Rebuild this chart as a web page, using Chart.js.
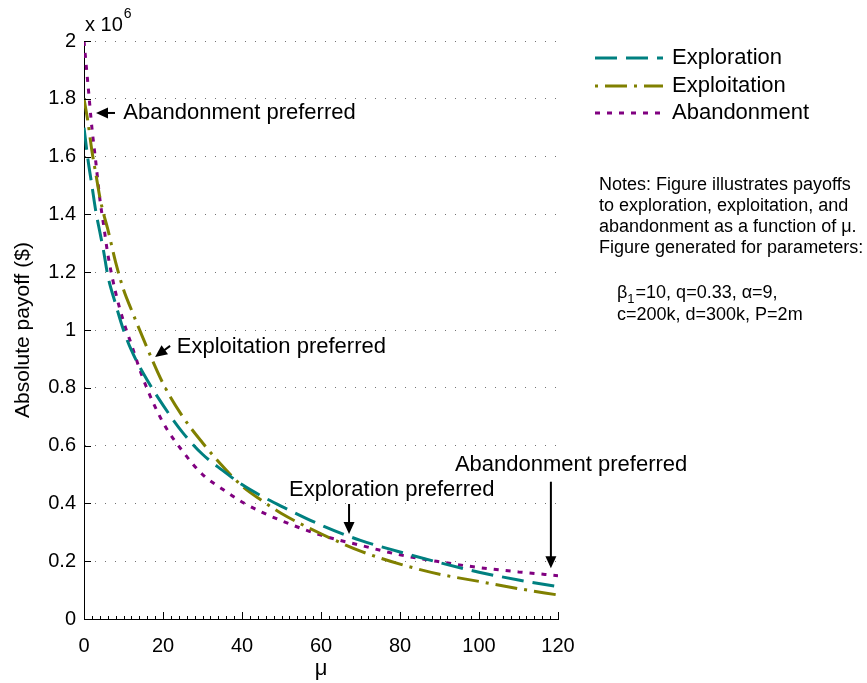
<!DOCTYPE html>
<html>
<head>
<meta charset="utf-8">
<title>Payoffs vs mu</title>
<script src="https://cdn.jsdelivr.net/npm/chart.js@4/dist/chart.umd.min.js"></script>
<style>
  html, body { margin: 0; padding: 0; background: #fff; }
  canvas { display: block; }
</style>
</head>
<body>
<canvas id="grafico" width="867" height="683"></canvas>
<script>
// valores (payoff em milhões de $)
const mu = [0, 1, 2, 3, 4, 5, 6, 8, 10, 12, 15, 20, 25, 30, 35, 40, 45, 50, 60, 70, 80, 90, 100, 110, 120];
const exploration = [1.70, 1.59, 1.50, 1.41, 1.34, 1.27, 1.19, 1.09, 1.00, 0.93, 0.85, 0.74, 0.645, 0.57, 0.515, 0.465, 0.425, 0.39, 0.325, 0.272, 0.232, 0.195, 0.162, 0.135, 0.112];
const exploitation = [1.80, 1.72, 1.62, 1.54, 1.46, 1.40, 1.35, 1.235, 1.14, 1.07, 0.97, 0.815, 0.70, 0.61, 0.53, 0.46, 0.41, 0.365, 0.295, 0.235, 0.19, 0.155, 0.13, 0.105, 0.083];
const abandonment = [2.00, 1.85, 1.70, 1.58, 1.455, 1.36, 1.265, 1.13, 1.03, 0.95, 0.83, 0.68, 0.58, 0.50, 0.45, 0.405, 0.37, 0.34, 0.29, 0.255, 0.222, 0.198, 0.178, 0.163, 0.150];

const seriesNames = ['Exploration', 'Exploitation', 'Abandonment'];
const xTicks = [0, 20, 40, 60, 80, 100, 120];
const yTicks = [0, 0.2, 0.4, 0.6, 0.8, 1, 1.2, 1.4, 1.6, 1.8, 2];

// notas e anotações (texto)
const notes = [
  'Notes: Figure illustrates payoffs',
  'to exploration, exploitation, and',
  'abandonment as a function of \u03bc.',
  'Figure generated for parameters:'
];
const annotations = [
  { text: 'Abandonment preferred', tx: 9.95, ty: 1.751, from: [7.85, 1.751], to: [3.04, 1.751] },
  { text: 'Exploitation preferred', tx: 23.5, ty: 0.941, from: [21.8, 0.945], to: [18.0, 0.907] },
  { text: 'Exploration preferred', tx: 51.9, ty: 0.446, from: [67.1, 0.398], to: [67.1, 0.294] },
  { text: 'Abandonment preferred', tx: 93.9, ty: 0.533, from: [118.2, 0.475], to: [118.2, 0.176] }
];

const FONTE = '"Liberation Sans", Arial, Helvetica, sans-serif';

function pares(ys) {
  return mu.map((x, i) => ({ x: x, y: ys[i] }));
}

function seta(ctx, x1, y1, x2, y2) {
  const ang = Math.atan2(y2 - y1, x2 - x1);
  const cab = 12;
  ctx.beginPath();
  ctx.moveTo(x1, y1);
  ctx.lineTo(x2 - Math.cos(ang) * cab * 0.8, y2 - Math.sin(ang) * cab * 0.8);
  ctx.stroke();
  ctx.beginPath();
  ctx.moveTo(x2, y2);
  ctx.lineTo(x2 - cab * Math.cos(ang) + 5.5 * Math.sin(ang), y2 - cab * Math.sin(ang) - 5.5 * Math.cos(ang));
  ctx.lineTo(x2 - cab * Math.cos(ang) - 5.5 * Math.sin(ang), y2 - cab * Math.sin(ang) + 5.5 * Math.cos(ang));
  ctx.closePath();
  ctx.fill();
}

// plugin: ticks para dentro, legenda, notas, anotações e "x 10^6"
const extras = {
  id: 'extras',
  beforeDraw(chart) {
    const ctx = chart.ctx;
    ctx.save();
    ctx.fillStyle = '#fff';
    ctx.fillRect(0, 0, chart.width, chart.height);
    ctx.restore();
  },
  afterDraw(chart) {
    const ctx = chart.ctx;
    const xs = chart.scales.x, ys = chart.scales.y;
    const area = chart.chartArea;
    ctx.save();

    // ticks do eixo x (maiores e menores)
    ctx.strokeStyle = '#000';
    ctx.lineWidth = 1;
    for (let v = 0; v <= 120; v += 2) {
      const px = Math.round(xs.getPixelForValue(v)) + 0.5;
      const len = (v % 20 === 0) ? 7 : 3;
      ctx.beginPath();
      ctx.moveTo(px, area.bottom);
      ctx.lineTo(px, area.bottom - len);
      ctx.stroke();
    }
    // ticks do eixo y
    yTicks.forEach(v => {
      const py = Math.round(ys.getPixelForValue(v)) + 0.5;
      ctx.beginPath();
      ctx.moveTo(area.left, py);
      ctx.lineTo(area.left + 7, py);
      ctx.stroke();
    });

    // multiplicador x 10^6
    ctx.fillStyle = '#000';
    ctx.textBaseline = 'middle';
    ctx.textAlign = 'left';
    ctx.font = '20px ' + FONTE;
    ctx.fillText('x 10', 85, 25);
    const w10 = ctx.measureText('x 10').width;
    ctx.font = '14px ' + FONTE;
    ctx.fillText('6', 85 + w10 + 1, 14);

    // anotações com setas
    ctx.font = '22px ' + FONTE;
    ctx.lineWidth = 2;
    ctx.strokeStyle = '#000';
    annotations.forEach(a => {
      ctx.fillText(a.text, xs.getPixelForValue(a.tx), ys.getPixelForValue(a.ty));
      seta(ctx,
        xs.getPixelForValue(a.from[0]), ys.getPixelForValue(a.from[1]),
        xs.getPixelForValue(a.to[0]), ys.getPixelForValue(a.to[1]));
    });

    // legenda
    const linhasY = [58, 86, 113];
    chart.data.datasets.forEach((ds, i) => {
      const y = linhasY[i];
      ctx.save();
      ctx.strokeStyle = ds.borderColor;
      ctx.lineWidth = ds.borderWidth;
      ctx.setLineDash(ds.borderDash);
      ctx.lineDashOffset = ds.legendOffset || 0;
      ctx.beginPath();
      ctx.moveTo(595, y);
      ctx.lineTo(663, y);
      ctx.stroke();
      ctx.restore();
      ctx.font = '22px ' + FONTE;
      ctx.fillText(ds.label, 672, y);
    });

    // notas
    ctx.font = '18px ' + FONTE;
    notes.forEach((t, i) => {
      ctx.fillText(t, 599, 185 + i * 21);
    });
    // parâmetros com subscrito
    let x = 617;
    ctx.fillText('\u03b2', x, 293);
    x += ctx.measureText('\u03b2').width;
    ctx.font = '13px ' + FONTE;
    ctx.fillText('1', x, 299);
    x += ctx.measureText('1').width + 1;
    ctx.font = '18px ' + FONTE;
    ctx.fillText('=10, q=0.33, \u03b1=9,', x, 293);
    ctx.fillText('c=200k, d=300k, P=2m', 617, 315);

    ctx.restore();
  }
};

const ctx = document.getElementById('grafico').getContext('2d');

new Chart(ctx, {
  type: 'line',
  data: {
    datasets: [
      {
        label: seriesNames[0],
        data: pares(exploration),
        borderColor: '#008080',
        borderWidth: 3,
        borderDash: [22, 9],
        legendOffset: 0
      },
      {
        label: seriesNames[1],
        data: pares(exploitation),
        borderColor: '#808000',
        borderWidth: 3,
        borderDash: [22, 7, 3, 7],
        legendOffset: 29
      },
      {
        label: seriesNames[2],
        data: pares(abandonment),
        borderColor: '#800080',
        borderWidth: 3,
        borderDash: [5, 7],
        legendOffset: 0
      }
    ]
  },
  options: {
    responsive: false,
    animation: false,
    devicePixelRatio: 1,
    elements: {
      point: { radius: 0 },
      line: { cubicInterpolationMode: 'monotone', fill: false }
    },
    layout: { padding: { left: 0, top: 41, right: 309, bottom: 0 } },
    plugins: {
      legend: { display: false },
      tooltip: { enabled: false }
    },
    scales: {
      x: {
        type: 'linear',
        min: 0,
        max: 120,
        afterBuildTicks: s => { s.ticks = xTicks.map(v => ({ value: v })); },
        afterFit: s => { s.height = 64; },
        grid: { display: false },
        border: { display: true, color: '#000', width: 1 },
        ticks: {
          color: '#000',
          padding: 7,
          maxRotation: 0,
          font: { family: FONTE, size: 20 }
        },
        title: {
          display: true,
          text: '\u03bc',
          color: '#000',
          font: { family: FONTE, size: 22 },
          padding: { top: 0, bottom: 1 }
        }
      },
      y: {
        min: 0,
        max: 2,
        afterBuildTicks: s => { s.ticks = yTicks.map(v => ({ value: v })); },
        afterFit: s => { s.width = 84; },
        grid: {
          drawTicks: false,
          color: 'rgba(0,0,0,0.55)',
          lineWidth: 1
        },
        border: { display: true, color: '#000', width: 1, dash: [1, 9] },
        ticks: {
          color: '#000',
          padding: 8,
          font: { family: FONTE, size: 20 },
          callback: v => String(Math.round(v * 10) / 10)
        },
        title: {
          display: true,
          text: 'Absolute payoff ($)',
          color: '#000',
          font: { family: FONTE, size: 21 },
          padding: { top: 11, bottom: 0 }
        }
      }
    }
  },
  plugins: [extras]
});
</script>
</body>
</html>
